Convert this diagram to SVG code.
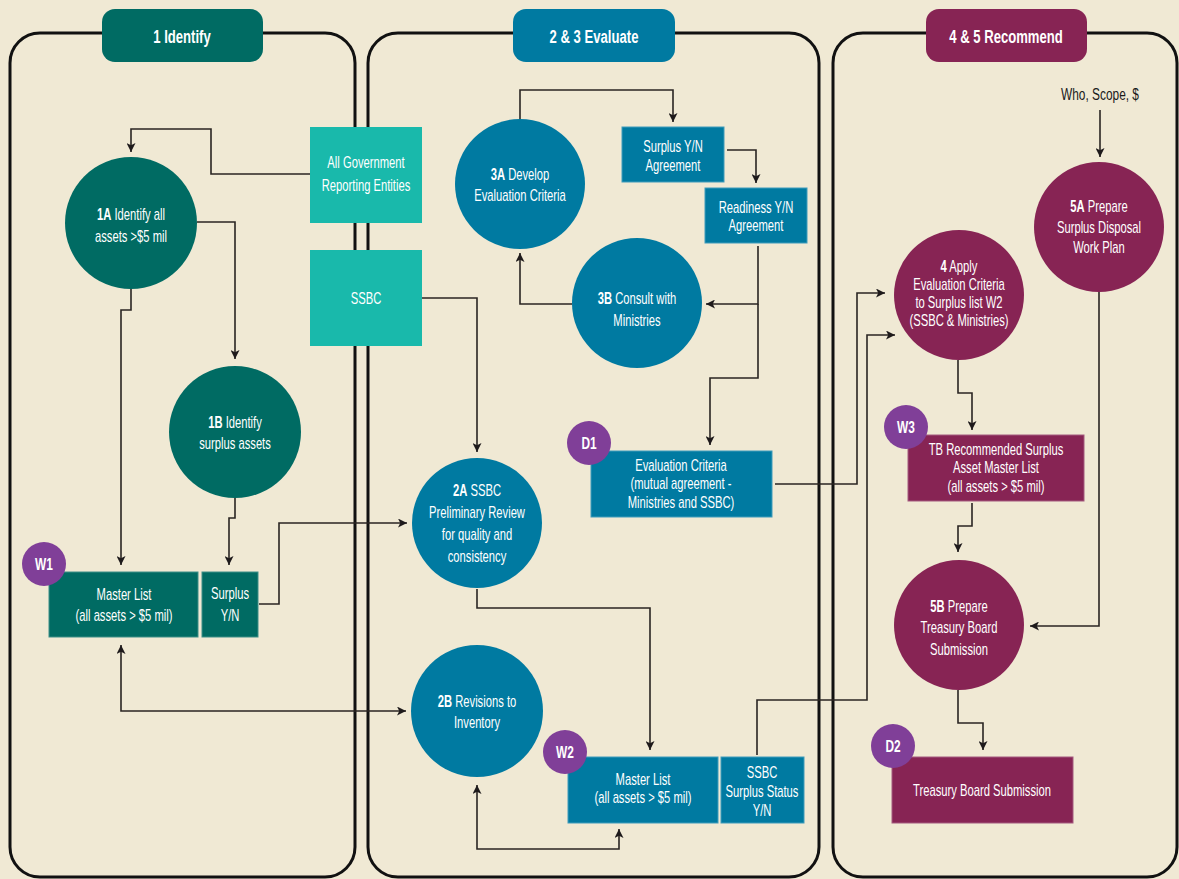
<svg xmlns="http://www.w3.org/2000/svg" width="1179" height="879" viewBox="0 0 1179 879">
<defs>
<style>
.bg{fill:#F0E9D4}
.panel{fill:none;stroke:#111;stroke-width:3}
.t{font-family:"Liberation Sans",Arial,sans-serif;font-size:17px;fill:#fff;text-anchor:middle}
.tab{font-family:"Liberation Sans",Arial,sans-serif;font-size:19px;font-weight:bold;fill:#fff;text-anchor:middle}
.b{font-weight:bold}
.dk{fill:#1a1a1a}
.teal{fill:#006B63}
.blue{fill:#007AA1}
.turq{fill:#19B9AB}
.maroon{fill:#872454}
.purple{fill:#803F98}
.c{fill:none;stroke:#2A2522;stroke-width:1.6}
.ar{marker-end:url(#ah)}
.ar2{marker-start:url(#ah);marker-end:url(#ah)}
</style>
<marker id="ah" viewBox="0 0 10 10" refX="10" refY="5" markerWidth="9" markerHeight="9" markerUnits="userSpaceOnUse" orient="auto-start-reverse">
<path d="M0,0 L10,5 L0,10 L2.5,5 z" fill="#1E1A1B"/>
</marker>
</defs>
<rect class="bg" x="0" y="0" width="1179" height="879"/>

<g id="panels">
<rect class="panel" x="10" y="33" width="345" height="844" rx="30"/>
<rect class="panel" x="368" y="33" width="451" height="844" rx="30"/>
<rect class="panel" x="833" y="33" width="344" height="844" rx="30"/>
</g>

<g id="tab-identify"><rect class="teal" x="102" y="9" width="161" height="53" rx="13"/><text class="tab" transform="translate(182 43) scale(0.69 1)">1 Identify</text></g>
<g id="tab-evaluate"><rect class="blue" x="513" y="9" width="162" height="53" rx="13"/><text class="tab" transform="translate(594 43) scale(0.69 1)">2 &amp; 3 Evaluate</text></g>
<g id="tab-recommend"><rect class="maroon" x="926" y="9" width="161" height="53" rx="13"/><text class="tab" transform="translate(1006 43) scale(0.69 1)">4 &amp; 5 Recommend</text></g>

<g id="connectors">
<path class="c ar" d="M310,174 H211 V129 H131 V152"/>
<path class="c ar" d="M197,222 H235 V359"/>
<path class="c ar" d="M131,289 V310 H121 V565"/>
<path class="c ar" d="M235,498 V518 H229 V565"/>
<path class="c ar" d="M259,604 H279 V523 H407"/>
<path class="c ar2" d="M121,645 V711 H406"/>
<path class="c ar" d="M422,298 H477 V452"/>
<path class="c ar" d="M520,119 V90 H673 V122"/>
<path class="c ar" d="M727,150 H756 V183"/>
<path class="c ar" d="M758,246 V304 H706"/>
<path class="c ar" d="M758,304 V378 H710 V445"/>
<path class="c ar" d="M572,304 H520 V253"/>
<path class="c ar" d="M477,589 V608 H650 V750"/>
<path class="c ar2" d="M477,785 V849 H619 V829"/>
<path class="c ar" d="M775,484 H857 V293 H885"/>
<path class="c ar" d="M757,755 V700 H867 V335 H895"/>
<path class="c ar" d="M1100,110 V157"/>
<path class="c ar" d="M1099,292 V626 H1030"/>
<path class="c ar" d="M958,360 V393 H972 V430"/>
<path class="c ar" d="M972,503 V526 H958 V552"/>
<path class="c ar" d="M958,690 V723 H983 V750"/>
</g>

<g id="all-gov"><rect class="turq" x="310" y="127" width="112" height="96"/>
<text class="t" transform="translate(366 168) scale(0.66 1)">All Government</text>
<text class="t" transform="translate(366 191) scale(0.66 1)">Reporting Entities</text></g>
<g id="ssbc"><rect class="turq" x="310" y="250" width="112" height="96"/>
<text class="t" transform="translate(366 304) scale(0.66 1)">SSBC</text></g>

<g id="n1A"><circle class="teal" cx="131" cy="223" r="66"/>
<text class="t" transform="translate(131 220) scale(0.66 1)"><tspan class="b">1A</tspan> Identify all</text>
<text class="t" transform="translate(131 242) scale(0.66 1)">assets &gt;$5 mil</text></g>
<g id="n1B"><circle class="teal" cx="235" cy="432" r="66"/>
<text class="t" transform="translate(235 428) scale(0.66 1)"><tspan class="b">1B</tspan> Identify</text>
<text class="t" transform="translate(235 449) scale(0.66 1)">surplus assets</text></g>
<g id="w1-master"><rect class="teal" x="49" y="572" width="149" height="65" stroke="#3d8f87" stroke-width="1"/>
<text class="t" transform="translate(124 600) scale(0.66 1)">Master List</text>
<text class="t" transform="translate(124 621) scale(0.66 1)">(all assets &gt; $5 mil)</text></g>
<g id="w1-surplus"><rect class="teal" x="202" y="572" width="56" height="65" stroke="#3d8f87" stroke-width="1"/>
<text class="t" transform="translate(230 599) scale(0.66 1)">Surplus</text>
<text class="t" transform="translate(230 621) scale(0.66 1)">Y/N</text></g>
<g id="w1"><circle class="purple" cx="44" cy="564" r="22"/>
<text class="t b" transform="translate(44 570) scale(0.7 1)">W1</text></g>

<g id="n3A"><circle class="blue" cx="520" cy="184" r="65"/>
<text class="t" transform="translate(520 180) scale(0.66 1)"><tspan class="b">3A</tspan> Develop</text>
<text class="t" transform="translate(520 201) scale(0.66 1)">Evaluation Criteria</text></g>
<g id="surplus-agree"><rect class="blue" x="622" y="127" width="102" height="55" stroke="#3f9cbb" stroke-width="1"/>
<text class="t" transform="translate(673 152) scale(0.66 1)">Surplus Y/N</text>
<text class="t" transform="translate(673 171) scale(0.66 1)">Agreement</text></g>
<g id="ready-agree"><rect class="blue" x="705" y="188" width="102" height="55" stroke="#3f9cbb" stroke-width="1"/>
<text class="t" transform="translate(756 213) scale(0.66 1)">Readiness Y/N</text>
<text class="t" transform="translate(756 231) scale(0.66 1)">Agreement</text></g>
<g id="n3B"><circle class="blue" cx="637" cy="303" r="65"/>
<text class="t" transform="translate(637 304) scale(0.66 1)"><tspan class="b">3B</tspan> Consult with</text>
<text class="t" transform="translate(637 326) scale(0.66 1)">Ministries</text></g>
<g id="eval-criteria"><rect class="blue" x="591" y="451" width="181" height="66" stroke="#3f9cbb" stroke-width="1"/>
<text class="t" transform="translate(681 471) scale(0.66 1)">Evaluation Criteria</text>
<text class="t" transform="translate(681 489) scale(0.66 1)">(mutual agreement -</text>
<text class="t" transform="translate(681 508) scale(0.66 1)">Ministries and SSBC)</text></g>
<g id="d1"><circle class="purple" cx="589" cy="443" r="22"/>
<text class="t b" transform="translate(589 449) scale(0.7 1)">D1</text></g>
<g id="n2A"><circle class="blue" cx="477" cy="523" r="65"/>
<text class="t" transform="translate(477 496) scale(0.66 1)"><tspan class="b">2A</tspan> SSBC</text>
<text class="t" transform="translate(477 518) scale(0.66 1)">Preliminary Review</text>
<text class="t" transform="translate(477 540) scale(0.66 1)">for quality and</text>
<text class="t" transform="translate(477 562) scale(0.66 1)">consistency</text></g>
<g id="n2B"><circle class="blue" cx="477" cy="711" r="66"/>
<text class="t" transform="translate(477 707) scale(0.66 1)"><tspan class="b">2B</tspan> Revisions to</text>
<text class="t" transform="translate(477 728) scale(0.66 1)">Inventory</text></g>
<g id="w2-master"><rect class="blue" x="568" y="757" width="150" height="66" stroke="#3f9cbb" stroke-width="1"/>
<text class="t" transform="translate(643 785) scale(0.66 1)">Master List</text>
<text class="t" transform="translate(643 803) scale(0.66 1)">(all assets &gt; $5 mil)</text></g>
<g id="w2-status"><rect class="blue" x="721" y="757" width="83" height="66" stroke="#3f9cbb" stroke-width="1"/>
<text class="t" transform="translate(762 778) scale(0.66 1)">SSBC</text>
<text class="t" transform="translate(762 797) scale(0.66 1)">Surplus Status</text>
<text class="t" transform="translate(762 816) scale(0.66 1)">Y/N</text></g>
<g id="w2"><circle class="purple" cx="565" cy="752" r="22"/>
<text class="t b" transform="translate(565 758) scale(0.7 1)">W2</text></g>

<g id="who"><text class="t dk" transform="translate(1100 100) scale(0.7 1)">Who, Scope, $</text></g>
<g id="n5A"><circle class="maroon" cx="1099" cy="227" r="65"/>
<text class="t" transform="translate(1099 212) scale(0.66 1)"><tspan class="b">5A</tspan> Prepare</text>
<text class="t" transform="translate(1099 233) scale(0.66 1)">Surplus Disposal</text>
<text class="t" transform="translate(1099 253) scale(0.66 1)">Work Plan</text></g>
<g id="n4"><circle class="maroon" cx="959" cy="295" r="65"/>
<text class="t" transform="translate(959 272) scale(0.66 1)"><tspan class="b">4</tspan> Apply</text>
<text class="t" transform="translate(959 290) scale(0.66 1)">Evaluation Criteria</text>
<text class="t" transform="translate(959 308) scale(0.66 1)">to Surplus list W2</text>
<text class="t" transform="translate(959 326) scale(0.66 1)">(SSBC &amp; Ministries)</text></g>
<g id="tb-list"><rect class="maroon" x="908" y="435" width="176" height="66" stroke="#a35a7f" stroke-width="1"/>
<text class="t" transform="translate(996 455) scale(0.66 1)">TB Recommended Surplus</text>
<text class="t" transform="translate(996 473) scale(0.66 1)">Asset Master List</text>
<text class="t" transform="translate(996 492) scale(0.66 1)">(all assets &gt; $5 mil)</text></g>
<g id="w3"><circle class="purple" cx="906" cy="427" r="22"/>
<text class="t b" transform="translate(906 433) scale(0.7 1)">W3</text></g>
<g id="n5B"><circle class="maroon" cx="959" cy="625" r="65"/>
<text class="t" transform="translate(959 612) scale(0.66 1)"><tspan class="b">5B</tspan> Prepare</text>
<text class="t" transform="translate(959 633) scale(0.66 1)">Treasury Board</text>
<text class="t" transform="translate(959 655) scale(0.66 1)">Submission</text></g>
<g id="tb-sub"><rect class="maroon" x="892" y="757" width="181" height="66" stroke="#a35a7f" stroke-width="1"/>
<text class="t" transform="translate(982 796) scale(0.66 1)">Treasury Board Submission</text></g>
<g id="d2"><circle class="purple" cx="893" cy="746" r="22"/>
<text class="t b" transform="translate(893 752) scale(0.7 1)">D2</text></g>
</svg>
